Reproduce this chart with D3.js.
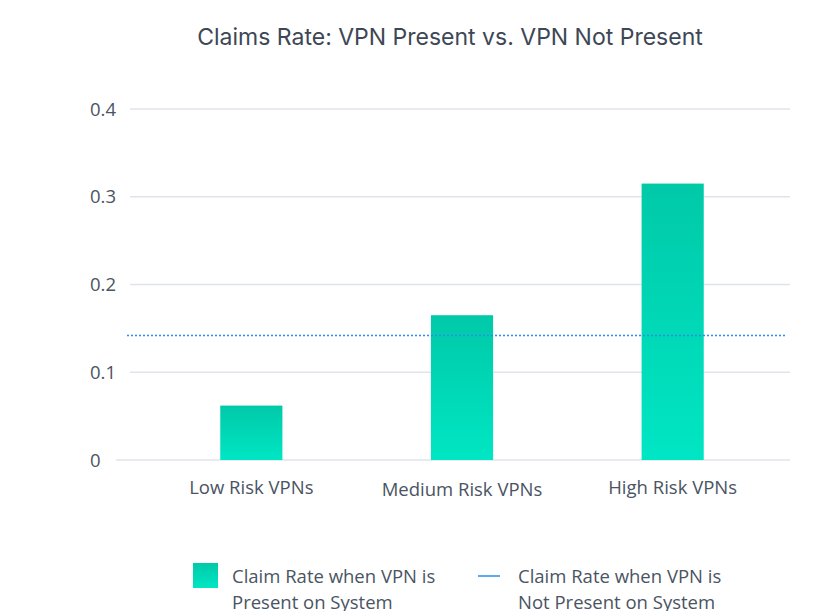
<!DOCTYPE html>
<html>
<head>
<meta charset="utf-8">
<script src="https://cdn.jsdelivr.net/npm/d3@7"></script>
<style>
  body { margin: 0; background: #fff; }
  svg { display: block; }
</style>
</head>
<body>
<svg id="chart"></svg>
<script>
const categories = ["Low Risk VPNs", "Medium Risk VPNs", "High Risk VPNs"];
const presentValues = [0.062, 0.165, 0.315];
const notPresentValue = 0.142;
const yTicks = [0, 0.1, 0.2, 0.3, 0.4];
const tickLabels = ["0", "0.1", "0.2", "0.3", "0.4"];
const legendLabels = [
  ["Claim Rate when VPN is", "Present on System"],
  ["Claim Rate when VPN is", "Not Present on System"]
];

const width = 815, height = 611;
const textColor = "#4a5463";

const svg = d3.select("#chart")
  .attr("width", width)
  .attr("height", height);

const defs = svg.append("defs");
const grad = defs.append("linearGradient")
  .attr("id", "barGrad")
  .attr("x1", 0).attr("y1", 0).attr("x2", 0).attr("y2", 1);
grad.append("stop").attr("offset", "0%").attr("stop-color", "#00c9a8");
grad.append("stop").attr("offset", "100%").attr("stop-color", "#00e6c4");

const y = d3.scaleLinear().domain([0, 0.4]).range([460, 109]);
const x = d3.scaleBand()
  .domain(categories)
  .range([146, 778])
  .paddingInner(0.705)
  .paddingOuter(0.3525);

// title
svg.append("text")
  .attr("x", 450)
  .attr("y", 45)
  .attr("text-anchor", "middle")
  .attr("fill", "#3d4755")
  .style("font-family", "Inter, 'Open Sans', sans-serif")
  .style("font-size", "23px")
  .text("Claims Rate: VPN Present vs. VPN Not Present");

// grid
svg.append("g").selectAll("line")
  .data(yTicks)
  .join("line")
  .attr("x1", d => d === 0 ? 116 : 130)
  .attr("x2", 790)
  .attr("y1", d => y(d))
  .attr("y2", d => y(d))
  .attr("stroke", "#dfe3ea")
  .attr("stroke-width", 1.3);

// y tick labels
svg.append("g").selectAll("text")
  .data(yTicks)
  .join("text")
  .attr("x", 90)
  .attr("y", d => y(d) + 6.5)
  .attr("fill", textColor)
  .style("font-family", "'Open Sans', sans-serif")
  .style("font-size", "18.5px")
  .text((d, i) => tickLabels[i]);

// bars
svg.append("g").selectAll("rect")
  .data(presentValues)
  .join("rect")
  .attr("x", (d, i) => x(categories[i]))
  .attr("y", d => y(d))
  .attr("width", x.bandwidth())
  .attr("height", d => y(0) - y(d))
  .attr("fill", "url(#barGrad)");

// reference line
svg.append("line")
  .attr("x1", 127)
  .attr("x2", 787)
  .attr("y1", y(notPresentValue))
  .attr("y2", y(notPresentValue))
  .attr("stroke", "#2b8de8")
  .attr("stroke-width", 1.5)
  .attr("stroke-dasharray", "2,2");

// x labels
svg.append("g").selectAll("text")
  .data(categories)
  .join("text")
  .attr("x", d => x(d) + x.bandwidth() / 2)
  .attr("y", (d, i) => i === 1 ? 496 : 494)
  .attr("text-anchor", "middle")
  .attr("fill", textColor)
  .style("font-family", "'Open Sans', sans-serif")
  .style("font-size", "18.5px")
  .text(d => d);

// legend
const legend = svg.append("g");
legend.append("rect")
  .attr("x", 193).attr("y", 563)
  .attr("width", 25).attr("height", 25)
  .attr("fill", "url(#barGrad)");
legend.append("line")
  .attr("x1", 478).attr("x2", 500)
  .attr("y1", 576).attr("y2", 576)
  .attr("stroke", "#2b8de8")
  .attr("stroke-width", 1.5);

[232, 518].forEach((lx, i) => {
  const t = legend.append("text")
    .attr("fill", textColor)
    .style("font-family", "'Open Sans', sans-serif")
    .style("font-size", "18.5px");
  legendLabels[i].forEach((line, j) => {
    t.append("tspan")
      .attr("x", lx)
      .attr("y", 583 + j * 26)
      .text(line);
  });
});
</script>
</body>
</html>
